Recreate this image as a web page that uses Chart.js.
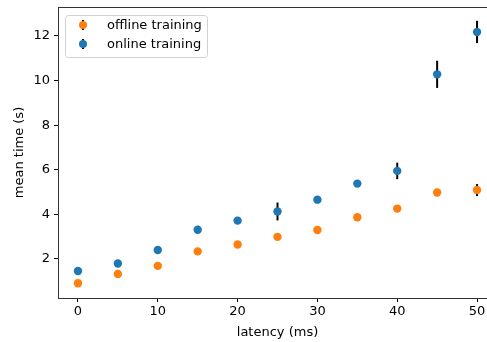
<!DOCTYPE html>
<html lang="en">
<head>
    <meta charset="UTF-8">
    <title>mean time vs latency</title>
    <script src="https://cdn.jsdelivr.net/npm/chart.js"></script>
    <style>
        body {
            margin: 0;
            padding: 0;
            background-color: #fff;
        }

        #wrap {
            width: 487px;
            height: 342px;
            overflow: hidden;
        }
    </style>
</head>
<body>
    <div id="wrap">
        <canvas id="latencyChart" width="520" height="342"></canvas>
    </div>

    <script>
        // dados
        var latency = [0, 5, 10, 15, 20, 25, 30, 35, 40, 45, 50];
        var offlineMean = [0.91, 1.33, 1.69, 2.34, 2.65, 2.99, 3.30, 3.87, 4.26, 4.98, 5.09];
        var offlineErr = [0.03, 0.05, 0.05, 0.05, 0.05, 0.06, 0.06, 0.08, 0.12, 0.12, 0.27];
        var onlineMean = [1.46, 1.80, 2.40, 3.31, 3.72, 4.13, 4.66, 5.38, 5.95, 10.28, 12.18];
        var onlineErr = [0.05, 0.06, 0.08, 0.1, 0.1, 0.40, 0.1, 0.1, 0.37, 0.61, 0.50];
        var xTicks = [0, 10, 20, 30, 40, 50];
        var yTicks = [2, 4, 6, 8, 10, 12];

        var blue = '#1f77b4';
        var orange = '#ff7f0e';
        var font = { family: 'DejaVu Sans', size: 13 };

        function points(ys) {
            return latency.map(function (x, i) { return { x: x, y: ys[i] }; });
        }

        // barras de erro desenhadas antes dos pontos
        var errorBars = {
            id: 'errorBars',
            beforeDatasetsDraw: function (chart) {
                var ctx = chart.ctx;
                var xs = chart.scales.x, ys = chart.scales.y;
                var errs = [offlineErr, onlineErr];
                ctx.save();
                ctx.strokeStyle = '#000';
                ctx.lineWidth = 2;
                chart.data.datasets.forEach(function (ds, d) {
                    ds.data.forEach(function (p, i) {
                        var px = xs.getPixelForValue(p.x);
                        ctx.beginPath();
                        ctx.moveTo(px, ys.getPixelForValue(p.y - errs[d][i]));
                        ctx.lineTo(px, ys.getPixelForValue(p.y + errs[d][i]));
                        ctx.stroke();
                    });
                });
                ctx.restore();
            }
        };

        // bordas de cima e da direita + legenda no estilo matplotlib
        var frameAndLegend = {
            id: 'frameAndLegend',
            afterDraw: function (chart) {
                var ctx = chart.ctx;
                var a = chart.chartArea;
                ctx.save();
                ctx.strokeStyle = '#333';
                ctx.lineWidth = 1;
                ctx.beginPath();
                ctx.moveTo(a.left, a.top + 0.5);
                ctx.lineTo(a.right, a.top + 0.5);
                ctx.lineTo(a.right, a.bottom);
                ctx.stroke();

                var lx = a.left + 7, ly = a.top + 8, lw = 142, lh = 42;
                ctx.beginPath();
                ctx.roundRect(lx + 0.5, ly + 0.5, lw, lh, 3);
                ctx.fillStyle = 'rgba(255,255,255,0.8)';
                ctx.fill();
                ctx.strokeStyle = '#d0d0d0';
                ctx.stroke();

                var items = [['offline training', orange], ['online training', blue]];
                ctx.font = font.size + 'px ' + font.family;
                ctx.textBaseline = 'middle';
                items.forEach(function (it, i) {
                    var cy = ly + 10 + i * 19;
                    var cx = lx + 18;
                    ctx.strokeStyle = '#000';
                    ctx.lineWidth = 2;
                    ctx.beginPath();
                    ctx.moveTo(cx, cy - 5);
                    ctx.lineTo(cx, cy + 5);
                    ctx.stroke();
                    ctx.fillStyle = it[1];
                    ctx.beginPath();
                    ctx.arc(cx, cy, 4, 0, Math.PI * 2);
                    ctx.fill();
                    ctx.fillStyle = '#000';
                    ctx.fillText(it[0], lx + 42, cy + 1);
                });
                ctx.restore();
            }
        };

        var ctx = document.getElementById('latencyChart').getContext('2d');
        var chart = new Chart(ctx, {
            type: 'scatter',
            data: {
                datasets: [{
                    label: 'offline training',
                    data: points(offlineMean),
                    backgroundColor: orange,
                    borderWidth: 0,
                    pointRadius: 4.2,
                    pointHoverRadius: 4.2
                }, {
                    label: 'online training',
                    data: points(onlineMean),
                    backgroundColor: blue,
                    borderWidth: 0,
                    pointRadius: 4.2,
                    pointHoverRadius: 4.2
                }]
            },
            options: {
                responsive: false,
                animation: false,
                devicePixelRatio: 1,
                layout: { padding: { top: 0, right: 23, left: 0, bottom: 0 } },
                plugins: {
                    legend: { display: false },
                    tooltip: { enabled: false }
                },
                scales: {
                    x: {
                        type: 'linear',
                        min: -2.5,
                        max: 52.5,
                        afterBuildTicks: function (s) {
                            s.ticks = xTicks.map(function (v) { return { value: v }; });
                        },
                        afterFit: function (s) { s.height = 44; },
                        grid: { drawOnChartArea: false, tickLength: 4, color: '#000' },
                        border: { color: '#333', width: 1 },
                        ticks: { color: '#000', font: font, padding: 2, maxRotation: 0 },
                        title: {
                            display: true,
                            text: 'latency (ms)',
                            color: '#000',
                            font: font,
                            padding: { top: 0, bottom: 2 }
                        }
                    },
                    y: {
                        type: 'linear',
                        min: 0.25,
                        max: 13.3,
                        afterBuildTicks: function (s) {
                            s.ticks = yTicks.map(function (v) { return { value: v }; });
                        },
                        afterFit: function (s) {
                            s.width = 58;
                            s.paddingTop = 7;
                        },
                        grid: { drawOnChartArea: false, tickLength: 4, color: '#000' },
                        border: { color: '#333', width: 1 },
                        ticks: { color: '#000', font: font, padding: 4 },
                        title: {
                            display: true,
                            text: 'mean time (s)',
                            color: '#000',
                            font: font,
                            padding: { top: 12, bottom: 0 }
                        }
                    }
                }
            },
            plugins: [errorBars, frameAndLegend]
        });
    </script>
</body>
</html>
